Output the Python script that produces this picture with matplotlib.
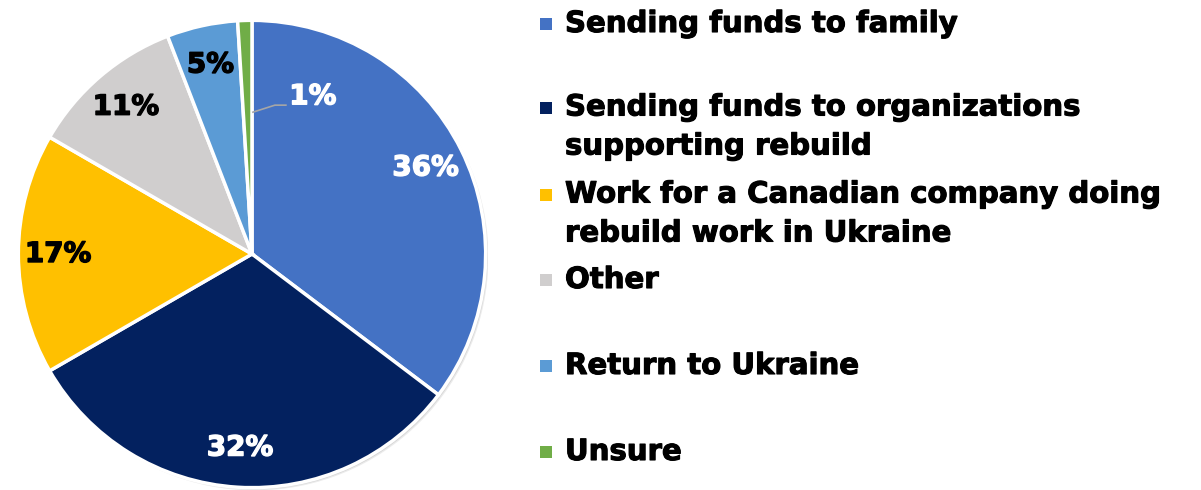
import matplotlib.pyplot as plt
import matplotlib.patheffects as pe
from matplotlib.patches import Circle, Rectangle

# Survey answers
categories = ['Sending funds to family',
              'Sending funds to organizations\nsupporting rebuild',
              'Work for a Canadian company doing\nrebuild work in Ukraine',
              'Other',
              'Return to Ukraine',
              'Unsure']
shares = [36, 32, 17, 11, 5, 1]
colors = ['#4472C4', '#03215F', '#FFC000', '#D0CECE', '#5B9BD5', '#70AD47']
label_colors = ['white', 'white', 'black', 'black', 'black', 'white']

plt.rcParams['font.family'] = ['DejaVu Sans']

fig = plt.figure(figsize=(12.01, 4.90), dpi=100)
ax = fig.add_axes([16 / 1201, 0 / 490, 472 / 1201, 472 / 490])
ax.set_aspect('equal')
ax.axis('off')

# soft shadow behind the pie
for k, a in [(0.012, 0.25), (0.008, 0.35)]:
    ax.add_patch(Circle((k, -k), 1.0, color='#b0b0b0', alpha=a, lw=0, zorder=0))

wedges, texts = ax.pie(shares, colors=colors, startangle=90, counterclock=False,
                       radius=1.0, labels=[f'{v}%' for v in shares], labeldistance=0.83,
                       wedgeprops=dict(edgecolor='white', linewidth=2.5))
ax.set_xlim(-1.01, 1.01)
ax.set_ylim(-1.01, 1.01)

for t, c in zip(texts, label_colors):
    t.set_color(c)
    t.set_fontsize(20)
    t.set_fontweight('bold')
    t.set_ha('center')
    t.set_va('center')
    t.set_path_effects([pe.withStroke(linewidth=1.0, foreground=c)])

# the tiny slice gets its label pulled out with a leader line
texts[-1].set_position((0.26, 0.675))
ax.plot([0.004, 0.098, 0.145], [0.607, 0.637, 0.637], color='#a6a6a6', lw=1.2)

# legend on the right
line_y = [24, 127, 214, 280, 366, 452]
for name, col, y in zip(categories, colors, line_y):
    nlines = name.count('\n') + 1
    top_line = y - (nlines - 1) * 19
    fig.patches.append(Rectangle((540 / 1201, 1 - (top_line + 6) / 490), 12 / 1201, 12 / 490,
                                 transform=fig.transFigure, color=col, lw=0))
    fig.text(565 / 1201, 1 - y / 490, name, fontsize=21, fontweight='bold',
             ha='left', va='center', linespacing=1.5, color='black',
             path_effects=[pe.withStroke(linewidth=0.8, foreground='black')])

fig.savefig('out.png', dpi=100)
